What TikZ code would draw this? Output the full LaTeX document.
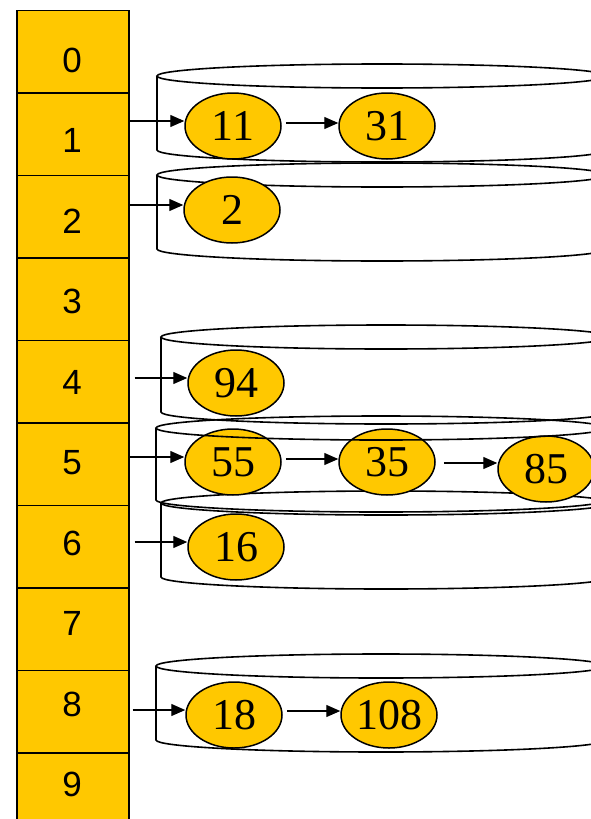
\documentclass[tikz,border=0pt]{standalone}
\usepackage{fontspec}
\setmainfont{Liberation Serif}
\setsansfont{Liberation Sans}
\usetikzlibrary{shapes.geometric,arrows.meta}
\definecolor{slotyellow}{RGB}{255,200,0}

\begin{document}
\begin{tikzpicture}[x=1pt,y=-1pt,line width=1.5pt,
  slot/.style={draw,fill=slotyellow,minimum width=112pt,minimum height=82.5pt,inner sep=0pt,anchor=north west},
  idx/.style={inner sep=0pt,font=\sffamily\fontsize{35}{35}\selectfont},
  item/.style={ellipse,draw,fill=slotyellow,minimum width=96pt,minimum height=66pt,inner sep=0pt,font=\fontsize{44}{44}\selectfont},
  link/.style={-{Triangle[length=14pt,width=12pt]},line width=1.3pt},
  bucket/.style={line width=1.6pt}]
\useasboundingbox (0,0) rectangle (591,819);
\clip (0,0) rectangle (591,819);
\foreach \xl/\yt/\yb in {157/76/150, 157/175/249, 161/337/412, 161/503/577, 156/666/740} {
  \draw[bucket] (\xl,\yt) -- (\xl,\yb) arc[start angle=180,end angle=360,x radius=225pt,y radius=12pt];
  \draw[bucket] (\xl+225,\yt) ellipse[x radius=225pt,y radius=12pt];
}
\foreach \i in {0,...,9}
  \node[slot] (slot\i) at (16,{9.5+82.5*\i}) {};
\foreach \i in {0,...,9}
  \node[idx] (idx\i) at (72,{60+80.5*\i}) {\i};
\node[item] (e11) at (233,126) {11};
\node[item] (e31) at (387,126) {31};
\node[item] (e2) at (232,210) {2};
\node[item] (e94) at (236,383) {94};
\node[item] (e55) at (233,462) {55};
\node[item] (e35) at (387,462) {35};
\node[item] (e85) at (546,469) {85};
\node[item] (e16) at (236,547) {16};
\node[item] (e18) at (234,715) {18};
\node[item] (e108) at (389,715) {108};
\draw[bucket] (156,428) -- (156,500) arc[start angle=180,end angle=360,x radius=225pt,y radius=12pt];
\draw[bucket] (381,428) ellipse[x radius=225pt,y radius=12pt];
\draw[link] ([yshift=5pt]e11.west -| slot1.east) -- ([yshift=5pt]e11.west);
\draw[link] ([yshift=5pt]e2.west -| slot2.east) -- ([yshift=5pt]e2.west);
\draw[link] ([xshift=5pt,yshift=5pt]e94.west -| slot4.east) -- ([yshift=5pt]e94.west);
\draw[link] ([yshift=5pt]e55.west -| slot5.east) -- ([yshift=5pt]e55.west);
\draw[link] ([xshift=5pt,yshift=5pt]e16.west -| slot6.east) -- ([yshift=5pt]e16.west);
\draw[link] ([xshift=3pt,yshift=5pt]e18.west -| slot8.east) -- ([yshift=5pt]e18.west);
\draw[link] ([xshift=4pt,yshift=3pt]e11.east) -- ([yshift=3pt]e31.west);
\draw[link] ([xshift=4pt,yshift=3pt]e55.east) -- ([yshift=3pt]e35.west);
\draw[link] ([xshift=8pt,yshift=-1pt]e35.east) -- ([yshift=-1pt]e35.east -| e85.west);
\draw[link] ([xshift=4pt,yshift=4pt]e18.east) -- ([yshift=4pt]e108.west);
\end{tikzpicture}
\end{document}
